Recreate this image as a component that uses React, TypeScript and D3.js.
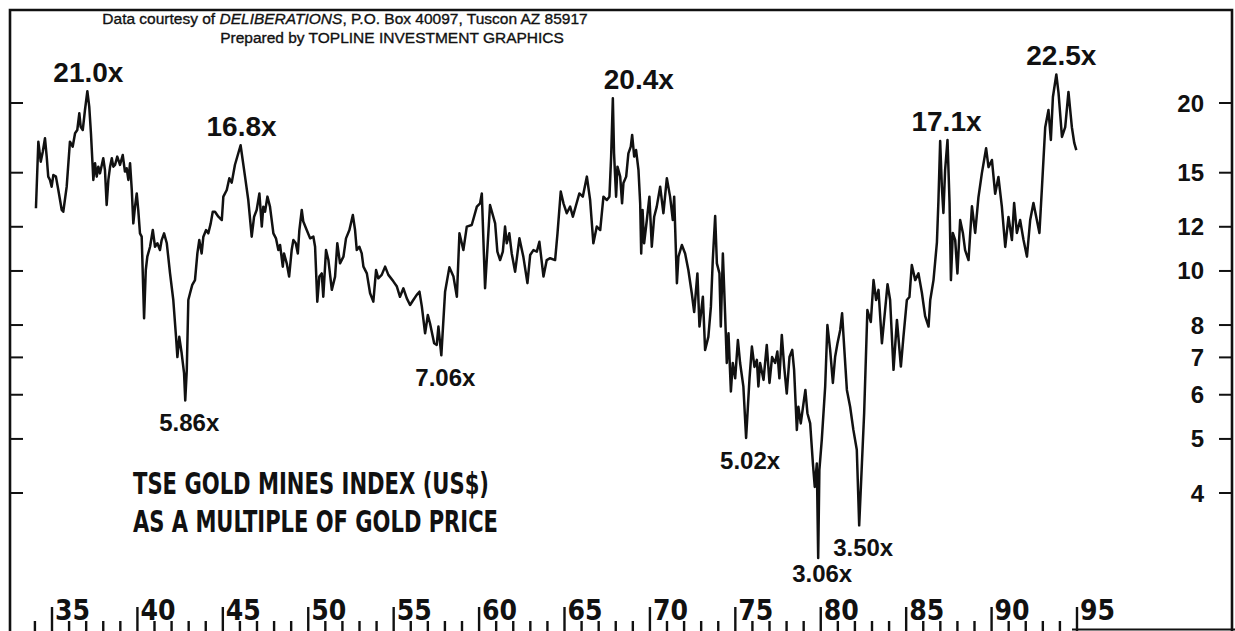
import React, { useEffect, useRef } from 'react';
import * as d3 from 'd3';

type Pt = [number, number];

// TSE gold mines index / gold price (year, multiple)
const seg1930s: Pt[] = [
  [1934.06, 12.95], [1934.2, 17.05], [1934.34, 15.7], [1934.46, 16.36], [1934.59, 17.29], [1934.69, 16.03],
  [1934.78, 14.76], [1934.88, 14.56], [1934.98, 14.16], [1935.08, 14.86], [1935.23, 14.76], [1935.37, 13.97],
  [1935.57, 12.86], [1935.66, 12.77], [1935.86, 14.16], [1936.05, 17.05], [1936.21, 16.7], [1936.35, 17.65],
  [1936.48, 17.89], [1936.6, 19.17], [1936.68, 18.13], [1936.8, 17.89], [1936.93, 19.43], [1937.07, 21.0],
  [1937.18, 19.7], [1937.28, 17.65], [1937.42, 14.56], [1937.52, 15.6], [1937.62, 14.76], [1937.71, 15.38],
  [1937.81, 14.96], [1938.0, 15.92], [1938.1, 15.17], [1938.2, 13.13], [1938.3, 14.56], [1938.4, 15.38],
  [1938.5, 15.92], [1938.59, 15.38], [1938.69, 15.49], [1938.82, 16.03], [1938.98, 15.49], [1939.14, 16.14],
  [1939.27, 15.07], [1939.37, 15.28], [1939.47, 14.56], [1939.57, 15.6], [1939.67, 13.97], [1939.76, 12.17],
  [1939.86, 13.04], [1939.96, 13.77],
];

const seg1940s: Pt[] = [
  [1940.05, 12.86], [1940.15, 11.68], [1940.25, 11.52], [1940.39, 8.23], [1940.49, 10.04], [1940.58, 10.61],
  [1940.74, 11.05], [1940.9, 11.84], [1941.03, 11.05], [1941.17, 11.21], [1941.32, 10.9], [1941.42, 11.36],
  [1941.56, 11.68], [1941.72, 11.21], [1941.91, 9.9], [1942.1, 8.87], [1942.26, 7.62], [1942.34, 7.01],
  [1942.45, 7.62], [1942.59, 7.12], [1942.73, 6.56], [1942.8, 5.86], [1942.89, 6.65], [1942.98, 8.87],
  [1943.08, 9.12], [1943.21, 9.44], [1943.37, 9.63], [1943.51, 10.75], [1943.62, 11.36], [1943.76, 10.75],
  [1943.86, 11.52], [1944.02, 11.84], [1944.15, 11.68], [1944.29, 12.17], [1944.41, 12.77], [1944.54, 12.77],
  [1944.74, 12.51], [1944.94, 12.34], [1945.03, 13.59], [1945.23, 13.97], [1945.38, 14.66], [1945.52, 14.4],
  [1945.71, 15.5], [1946.04, 16.8], [1946.3, 14.76], [1946.49, 13.4], [1946.69, 11.52], [1946.83, 12.51],
  [1946.98, 12.86], [1947.14, 13.77], [1947.28, 12.01], [1947.37, 13.04], [1947.47, 12.77], [1947.61, 13.59],
  [1947.76, 13.04], [1947.96, 11.68], [1948.11, 11.44], [1948.25, 10.9], [1948.35, 11.13], [1948.51, 10.18],
  [1948.58, 10.75], [1948.74, 10.32], [1948.88, 9.77], [1949.03, 10.9], [1949.13, 11.36], [1949.27, 11.21],
  [1949.39, 10.75], [1949.48, 11.84], [1949.62, 12.86], [1949.71, 12.26], [1949.91, 11.84],
];

const seg1950s: Pt[] = [
  [1950.11, 11.44], [1950.3, 11.52], [1950.4, 11.05], [1950.53, 8.81], [1950.65, 9.77], [1950.79, 9.9],
  [1950.88, 8.99], [1951.04, 10.9], [1951.18, 10.46], [1951.38, 9.25], [1951.57, 9.77], [1951.7, 11.21],
  [1951.86, 10.32], [1952.06, 10.61], [1952.21, 11.44], [1952.41, 11.84], [1952.61, 12.6], [1952.74, 11.84],
  [1952.84, 10.9], [1952.99, 11.05], [1953.13, 10.75], [1953.23, 10.18], [1953.43, 9.9], [1953.62, 9.12],
  [1953.81, 8.81], [1953.97, 10.04], [1954.1, 9.7], [1954.3, 9.84], [1954.5, 10.18], [1954.69, 9.84],
  [1954.98, 9.58], [1955.18, 9.39], [1955.37, 8.99], [1955.57, 9.31], [1955.77, 8.93], [1955.96, 8.69],
  [1956.15, 8.87], [1956.35, 9.06], [1956.51, 9.18], [1956.65, 8.63], [1956.84, 7.73], [1957.0, 8.34],
  [1957.13, 8.05], [1957.37, 7.42], [1957.52, 7.37], [1957.62, 7.95], [1957.79, 7.06], [1958.01, 9.18],
  [1958.26, 10.15], [1958.5, 9.77], [1958.7, 8.99], [1958.85, 11.68], [1959.08, 10.9], [1959.28, 12.01],
  [1959.57, 12.09], [1959.87, 13.04],
];

const seg1960s: Pt[] = [
  [1960.06, 13.22], [1960.16, 13.77], [1960.35, 9.31], [1960.64, 13.13], [1960.94, 12.17], [1961.07, 10.83],
  [1961.23, 10.46], [1961.39, 10.83], [1961.52, 12.01], [1961.62, 11.21], [1961.77, 11.68], [1961.91, 10.75],
  [1962.11, 9.97], [1962.36, 11.44], [1962.59, 10.61], [1962.83, 9.51], [1962.99, 10.68], [1963.18, 10.9],
  [1963.38, 10.83], [1963.53, 11.28], [1963.77, 9.77], [1963.96, 10.46], [1964.16, 10.54], [1964.45, 10.46],
  [1964.59, 11.68], [1964.78, 13.88], [1964.94, 13.22], [1965.13, 12.69], [1965.33, 13.04], [1965.49, 12.51],
  [1965.68, 13.13], [1965.87, 13.77], [1966.07, 13.59], [1966.31, 14.76], [1966.5, 13.4], [1966.69, 11.21],
  [1966.89, 12.01], [1967.09, 11.84], [1967.28, 13.59], [1967.48, 13.4], [1967.63, 13.59], [1967.73, 16.03],
  [1967.83, 20.4], [1967.9, 16.25], [1968.02, 13.59], [1968.1, 15.38], [1968.26, 14.76], [1968.37, 13.22],
  [1968.45, 14.37], [1968.61, 14.76], [1968.74, 16.25], [1968.88, 16.7], [1968.96, 17.53], [1969.08, 16.03],
  [1969.19, 16.47], [1969.33, 15.17], [1969.43, 13.22], [1969.49, 10.75], [1969.57, 12.86], [1969.66, 11.21],
  [1969.82, 12.34], [1969.97, 13.59],
];

const seg1970s: Pt[] = [
  [1970.11, 11.05], [1970.25, 12.51], [1970.4, 13.04], [1970.6, 14.16], [1970.79, 12.69], [1970.99, 14.66],
  [1971.18, 13.59], [1971.34, 12.34], [1971.42, 13.59], [1971.58, 9.51], [1971.67, 10.61], [1971.87, 11.13],
  [1972.06, 10.75], [1972.25, 10.04], [1972.45, 9.12], [1972.59, 8.44], [1972.78, 9.9], [1972.9, 7.95],
  [1973.1, 8.99], [1973.23, 7.22], [1973.42, 7.62], [1973.57, 8.63], [1973.68, 10.46], [1973.82, 12.55],
  [1973.92, 10.32], [1974.07, 9.9], [1974.15, 7.95], [1974.27, 10.75], [1974.4, 8.4], [1974.5, 6.84],
  [1974.6, 7.73], [1974.74, 6.08], [1974.85, 6.84], [1974.99, 6.42], [1975.15, 7.52], [1975.28, 6.84],
  [1975.47, 6.21], [1975.63, 5.02], [1975.83, 6.42], [1975.97, 7.32], [1976.12, 6.73], [1976.26, 6.93],
  [1976.35, 6.21], [1976.45, 6.84], [1976.65, 6.38], [1976.84, 7.37], [1977.0, 6.3], [1977.15, 7.01],
  [1977.33, 6.84], [1977.46, 7.17], [1977.58, 6.42], [1977.72, 7.68], [1977.86, 6.73], [1978.01, 6.03],
  [1978.17, 7.01], [1978.33, 7.22], [1978.44, 6.65], [1978.6, 5.19], [1978.69, 5.71], [1978.83, 5.33],
  [1978.99, 5.79], [1979.1, 6.12], [1979.22, 5.56], [1979.38, 5.33], [1979.54, 4.52], [1979.65, 4.1],
  [1979.77, 4.52], [1979.85, 3.06], [1979.92, 4.4],
];

const seg1980s: Pt[] = [
  [1980.06, 4.98], [1980.26, 6.21], [1980.39, 8.0], [1980.55, 7.22], [1980.71, 6.3], [1980.84, 7.01],
  [1980.98, 7.42], [1981.14, 7.84], [1981.25, 8.4], [1981.37, 7.32], [1981.53, 6.12], [1981.72, 5.71],
  [1981.91, 5.19], [1982.11, 4.78], [1982.25, 3.5], [1982.41, 4.52], [1982.54, 5.56], [1982.73, 8.51],
  [1982.93, 8.1], [1983.09, 9.63], [1983.24, 8.87], [1983.38, 9.25], [1983.58, 7.42], [1983.91, 9.47],
  [1984.06, 8.87], [1984.26, 6.65], [1984.46, 8.17], [1984.69, 6.74], [1984.84, 7.62], [1985.04, 8.87],
  [1985.19, 8.98], [1985.33, 10.25], [1985.53, 9.63], [1985.72, 9.9], [1985.92, 9.14], [1986.11, 8.3],
  [1986.31, 7.95], [1986.41, 8.87], [1986.6, 9.63], [1986.8, 11.25], [1986.89, 13.4], [1986.99, 17.1],
  [1987.09, 14.14], [1987.18, 12.7], [1987.28, 15.17], [1987.42, 17.17], [1987.54, 13.24], [1987.62, 9.63],
  [1987.73, 11.7], [1987.87, 11.36], [1988.0, 9.9], [1988.16, 12.34], [1988.32, 11.7], [1988.45, 10.9],
  [1988.65, 10.46], [1988.85, 13.06], [1989.04, 11.7], [1989.23, 13.55], [1989.43, 14.96], [1989.68, 16.59],
  [1989.82, 15.35],
];

const seg1990s: Pt[] = [
  [1990.02, 15.81], [1990.21, 13.75], [1990.4, 14.74], [1990.6, 13.06], [1990.8, 11.04], [1990.99, 12.5],
  [1991.19, 11.36], [1991.32, 13.24], [1991.48, 11.7], [1991.67, 12.34], [1991.87, 11.36], [1992.07, 10.61],
  [1992.26, 12.34], [1992.45, 13.24], [1992.65, 12.34], [1992.8, 11.7], [1992.95, 14.14], [1993.14, 18.1],
  [1993.33, 19.43], [1993.47, 17.17], [1993.59, 20.5], [1993.79, 22.5], [1993.92, 20.84], [1994.12, 17.39],
  [1994.31, 18.1], [1994.5, 20.93], [1994.7, 18.1], [1994.84, 16.96], [1994.96, 16.47],
];

const yTicks = [4, 5, 6, 7, 8, 10, 12, 15, 20];
const yearTicks = d3.range(1934, 1996);

// annotated extremes: [label, year, multiple]
const highs: [string, number, number][] = [
  ['21.0x', 1937.07, 21.0],
  ['16.8x', 1946.04, 16.8],
  ['20.4x', 1967.83, 20.4],
  ['17.1x', 1987.42, 17.17],
  ['22.5x', 1993.79, 22.5],
];
const lows: [string, number, number][] = [
  ['5.86x', 1942.8, 5.86],
  ['7.06x', 1957.79, 7.06],
  ['5.02x', 1975.63, 5.02],
  ['3.06x', 1979.85, 3.06],
  ['3.50x', 1982.25, 3.5],
];
const highShift: Record<string, number> = { '20.4x': 26, '22.5x': 5, '17.1x': -1 };
const lowShift: Record<string, number> = { '3.06x': 24 };

const sans = "'Liberation Sans', Arial, Helvetica, sans-serif";
const narrow = "'Liberation Sans Narrow', 'DejaVu Sans Condensed', 'Liberation Sans', sans-serif";

const App: React.FC = () => {
  const svgRef = useRef<SVGSVGElement | null>(null);

  useEffect(() => {
    if (!svgRef.current) return;
    const svg = d3.select(svgRef.current);
    svg.selectAll('*').remove();

    const x = d3.scaleLinear().domain([1935, 1995]).range([52, 1077]);
    const y = d3.scaleLog().domain([4, 20]).range([493, 103]);
    const ink = '#111';

    svg.append('rect').attr('width', 1235).attr('height', 631).attr('fill', '#fff');

    // frame
    const frame = svg.append('g').attr('stroke', ink).attr('fill', 'none');
    frame.append('path').attr('d', 'M10,631 L10,10 L1232,10 L1232,631').attr('stroke-width', 2.6);
    frame.append('line').attr('x1', 1072).attr('x2', 1235).attr('y1', 629.5).attr('y2', 629.5).attr('stroke-width', 2);

    // header
    const head = svg.append('g')
      .attr('font-family', sans).attr('font-size', 15.5).attr('fill', ink)
      .attr('stroke', ink).attr('stroke-width', 0.35).attr('text-anchor', 'middle');
    const l1 = head.append('text').attr('x', 345).attr('y', 24);
    l1.append('tspan').text('Data courtesy of ');
    l1.append('tspan').attr('font-style', 'italic').text('DELIBERATIONS');
    l1.append('tspan').text(', P.O. Box 40097, Tuscon AZ 85917');
    head.append('text').attr('x', 392).attr('y', 43).text('Prepared by TOPLINE INVESTMENT GRAPHICS');

    // y ticks, both sides
    const yt = svg.append('g').attr('stroke', ink).attr('stroke-width', 2);
    yTicks.forEach(v => {
      yt.append('line').attr('x1', 10).attr('x2', 23).attr('y1', y(v)).attr('y2', y(v));
      yt.append('line').attr('x1', 1219).attr('x2', 1232).attr('y1', y(v)).attr('y2', y(v));
    });
    svg.append('g')
      .attr('font-family', sans).attr('font-weight', 'bold').attr('font-size', 24).attr('fill', ink)
      .attr('text-anchor', 'end')
      .selectAll('text').data(yTicks).enter().append('text')
      .attr('x', 1204).attr('y', d => y(d) + 8.5).text(d => String(d));

    // x ticks
    const xt = svg.append('g').attr('stroke', ink).attr('stroke-width', 2.4);
    yearTicks.forEach(yr => {
      const major = yr % 5 === 0;
      xt.append('line').attr('x1', x(yr)).attr('x2', x(yr)).attr('y1', major ? 607 : 621).attr('y2', 631);
    });
    svg.append('g')
      .attr('font-family', narrow).attr('font-weight', 'bold').attr('font-size', 28).attr('fill', ink)
      .selectAll('text').data(yearTicks.filter(yr => yr % 5 === 0)).enter().append('text')
      .attr('x', d => x(d) + 3).attr('y', 620).text(d => String(d % 100));

    // series
    const data = [...seg1930s, ...seg1940s, ...seg1950s, ...seg1960s, ...seg1970s, ...seg1980s, ...seg1990s];
    const line = d3.line<Pt>().x(d => x(d[0])).y(d => y(d[1]));
    svg.append('path').datum(data)
      .attr('d', line)
      .attr('fill', 'none').attr('stroke', ink).attr('stroke-width', 2.5)
      .attr('stroke-linejoin', 'round');

    // extremes
    const ann = svg.append('g').attr('font-family', sans).attr('font-weight', 'bold').attr('fill', ink).attr('text-anchor', 'middle');
    highs.forEach(([t, yr, v]) => {
      ann.append('text').attr('font-size', 28)
        .attr('x', x(yr) + (highShift[t] ?? 1)).attr('y', y(v) - 9).text(t);
    });
    lows.forEach(([t, yr, v]) => {
      ann.append('text').attr('font-size', 24)
        .attr('x', x(yr) + 4).attr('y', y(v) + (lowShift[t] ?? 31)).text(t);
    });

    // title
    const title = svg.append('g').attr('font-family', narrow).attr('font-weight', 'bold').attr('font-size', 30).attr('fill', ink);
    title.append('text').attr('x', 133).attr('y', 494)
      .attr('textLength', 356).attr('lengthAdjust', 'spacingAndGlyphs').text('TSE GOLD MINES INDEX (US$)');
    title.append('text').attr('x', 133).attr('y', 532)
      .attr('textLength', 365).attr('lengthAdjust', 'spacingAndGlyphs').text('AS A MULTIPLE OF GOLD PRICE');
  }, []);

  return (
    <div style={{ position: 'absolute', left: 0, top: 0 }}>
      <svg ref={svgRef} width={1235} height={631} style={{ display: 'block' }}></svg>
    </div>
  );
};

export default App;
